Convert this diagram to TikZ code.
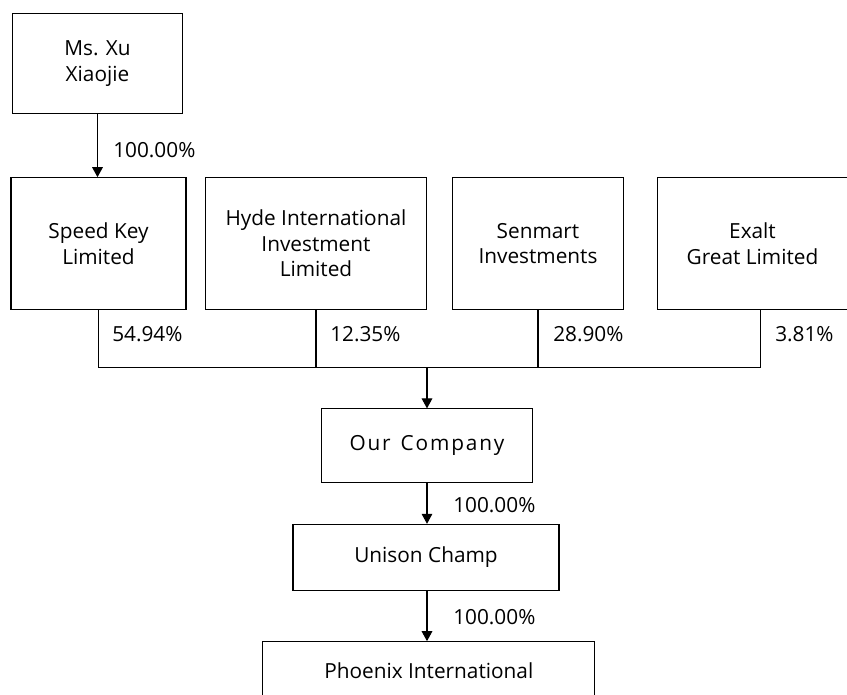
\documentclass[tikz,border=0pt]{standalone}
\usepackage{fontspec}
\setmainfont{Open Sans}
\usetikzlibrary{arrows.meta}

\tikzset{
  box/.style={draw, line width=0.8pt, align=center, inner sep=0.75pt,
    font=\fontsize{15.6}{19.2}\selectfont},
  pct/.style={anchor=west, inner sep=0.75pt, font=\fontsize{15.6}{19.2}\selectfont},
  link/.style={line width=0.8pt},
  arr/.style={line width=0.8pt, -{Triangle[length=7.5pt,width=8pt]}}
}

\begin{document}
\begin{tikzpicture}[x=0.75pt,y=0.75pt,yscale=-1,xscale=1]
\path[use as bounding box, clip] (0,0) rectangle (847,695);

%Shape: Rectangle [id:xu] 
\node[box, minimum width=127.5pt, minimum height=75pt] (xu) at (97.5,63.3) {Ms. Xu\\Xiaojie};
%Shape: Rectangle [id:speed] 
\node[box, minimum width=131.25pt, minimum height=98.7pt] (speed) at (98.5,243.5) {Speed Key\\Limited};
%Shape: Rectangle [id:hyde] 
\node[box, minimum width=166.3pt, minimum height=98.7pt] (hyde) at (316,243.5) {Hyde International\\Investment\\Limited};
%Shape: Rectangle [id:senmart] 
\node[box, minimum width=128pt, minimum height=98.7pt] (senmart) at (538,243.5) {Senmart\\Investments};
%Shape: Rectangle [id:exalt] 
\node[box, minimum width=142.1pt, minimum height=98.7pt] (exalt) at (752.5,243.5) {Exalt\\Great Limited};
%Shape: Rectangle [id:ourco] 
\node[box, minimum width=158pt, minimum height=55.3pt] (ourco) at (427,445.8) {\addfontfeatures{LetterSpace=9}Our\hspace{2pt} Company};
%Shape: Rectangle [id:unison] 
\node[box, minimum width=199.5pt, minimum height=49.3pt] (unison) at (426,557.2) {Unison Champ};
%Shape: Rectangle [id:phoenix] 
\node[box, minimum width=249.2pt, minimum height=43.5pt] (phoenix) at (428.8,670.7) {Phoenix International};

%Straight Lines [id:links] 
\coordinate (bus) at (427,367.5);
\coordinate (exdrop) at ([xshift=5.85pt]exalt.south);
\draw[arr] (xu.south) -- (xu.south |- speed.north);
\draw[link] (speed.south) |- (bus) -| (exdrop);
\draw[link] (hyde.south) -- (hyde.south |- bus);
\draw[link] (senmart.south) -- (senmart.south |- bus);
\draw[arr] (bus) -- (ourco.north);
\draw[arr] (ourco.south) -- (ourco.south |- unison.north);
\draw[arr] (ourco.south |- unison.south) -- (ourco.south |- phoenix.north);

% Text Node
\node[pct] (pxu) at (112,150) {100.00\%};
% Text Node
\node[pct] (pspeed) at (111,334) {54.94\%};
% Text Node
\node[pct] (phyde) at (329,334) {12.35\%};
% Text Node
\node[pct] (psenmart) at (552,334) {28.90\%};
% Text Node
\node[pct] (pexalt) at (774,334) {3.81\%};
% Text Node
\node[pct] (pourco) at (452,505) {100.00\%};
% Text Node
\node[pct] (punison) at (452,617) {100.00\%};

\end{tikzpicture}
\end{document}
